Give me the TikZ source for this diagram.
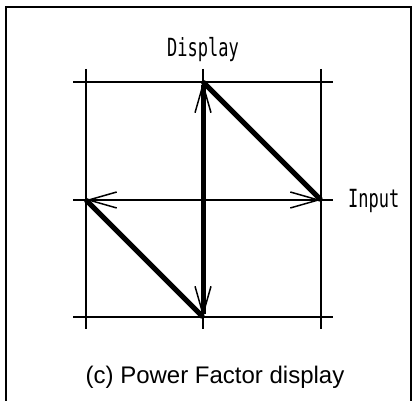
\documentclass[tikz,border=0pt]{standalone}
\usepackage{fontspec}
\setmainfont{Liberation Sans}
\newfontfamily\axisfont{DejaVu Sans Mono}
\usetikzlibrary{arrows.meta}
\tikzset{
  grid line/.style={line width=1.5pt},
  phasor/.style={line width=5pt},
  axis label/.style={font=\axisfont\fontsize{25}{25}\selectfont, inner sep=0pt},
  caption/.style={font=\fontsize{24}{24}\selectfont, inner sep=0pt}
}
\begin{document}
\begin{tikzpicture}[x=1pt,y=-1pt,
    >={Straight Barb[length=28pt,width=16pt,line width=1.5pt]}]
    \useasboundingbox (0,0) rectangle (416,401);
    \draw[line width=2pt] (6,402) -- (6,7) -- (411,7) -- (411,402);
    % grid points
    \coordinate (tm) at (203,82);
    \coordinate (ml) at (86,200);
    \coordinate (mr) at (321,200);
    \coordinate (bm) at (203,317);
    \foreach \x in {86,203,321}
      \draw[grid line] (\x,69) -- (\x,329);
    \foreach \y in {82,200,317}
      \draw[grid line] (73,\y) -- (333,\y);
    % input axis
    \draw[grid line,<->] (ml) -- (mr);
    % display phasors
    \draw[phasor,<->] (tm) -- (bm);
    \draw[phasor] (tm) -- (mr);
    \draw[phasor] (ml) -- (bm);
    \node[axis label,anchor=base] (display) at (203,57) {\scalebox{0.68}[1]{Display}};
    \node[axis label,anchor=base west] (input) at (348,208) {\scalebox{0.68}[1]{Input}};
    \node[caption,anchor=base] (title) at (215,384) {(c) Power Factor display};
  \end{tikzpicture}
\end{document}
